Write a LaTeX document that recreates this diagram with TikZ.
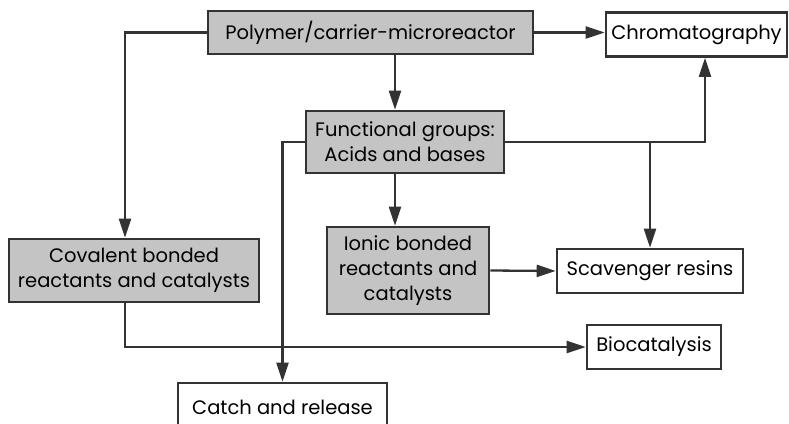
\documentclass[tikz,border=0pt]{standalone}
\usepackage{fontspec}
\setmainfont{Poppins}
\usepackage{tikz}
\usetikzlibrary{arrows.meta,positioning,calc}
\definecolor{boxgray}{HTML}{C4C4C4}
\definecolor{ink}{HTML}{333333}

\begin{document}
\begin{tikzpicture}[
      x=1pt, y=-1pt,
      font=\fontsize{19.5}{25}\selectfont,
      box/.style={draw=ink, line width=2.6pt, align=center,
                  inner sep=0pt, text=black},
      grey/.style={box, fill=boxgray},
      plain/.style={box, fill=white},
      arr/.style={-{Triangle[length=19pt,width=12pt]}, draw=ink,
                  line width=2.3pt},
      con/.style={draw=ink, line width=2.3pt}
    ]
    \useasboundingbox (0,0) rectangle (789,423);

    % carrier and functional groups
    \node[grey, minimum width=325pt, minimum height=43pt] (poly)
      at (370.5,32.5) {Polymer/carrier-microreactor};
    \node[grey, minimum width=198pt, minimum height=62pt] (func)
      at (405,142) {Functional groups:\\Acids and bases};

    % bonded reactants
    \node[grey, minimum width=250pt, minimum height=63pt] (cov)
      at (134,270.5) {Covalent bonded\\reactants and catalysts};
    \node[grey, minimum width=162pt, minimum height=87pt] (ionic)
      at (408,270.5) {Ionic bonded\\reactants and\\catalysts};

    % applications
    \node[plain, minimum width=181pt, minimum height=44pt] (chrom)
      at (696.5,34.5) {Chromatography};
    \node[plain, minimum width=186pt, minimum height=44pt] (scav)
      at (650,271) {Scavenger resins};
    \node[plain, minimum width=134pt, minimum height=44pt] (bio)
      at (654,347) {Biocatalysis};
    \node[plain, minimum width=209pt, minimum height=48pt] (catch)
      at (282.5,407) {Catch and release};

    % connectors
    \draw[arr] (poly.east) -- (poly.east -| chrom.west);
    \draw[arr] (poly.west) -| ([xshift=-9pt]cov.north);
    \draw[arr] ([xshift=-10pt]func.north |- poly.south)
      -- ([xshift=-10pt]func.north);
    \draw[arr] ([xshift=-13pt]ionic.north |- func.south)
      -- ([xshift=-13pt]ionic.north);
    \draw[arr] (func.east) -| ([xshift=8.5pt]chrom.south);
    \draw[arr] (func.east -| scav.north) -- (scav.north);
    \draw[arr] (func.west) -| (catch.north);
    \draw[arr] (ionic.east) -- (scav.west);
    \draw[arr] ([xshift=-9pt]cov.south) |- (bio.west);
  \end{tikzpicture}
\end{document}
